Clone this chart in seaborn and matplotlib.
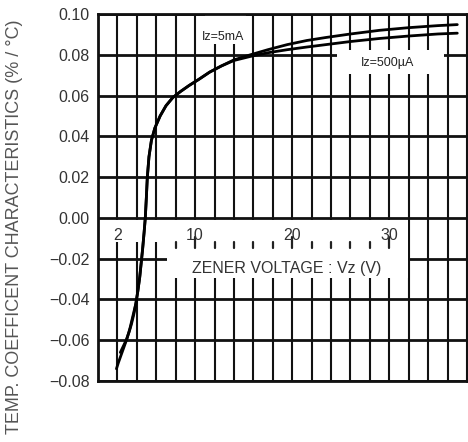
import matplotlib
matplotlib.use("Agg")
import matplotlib.pyplot as plt
import matplotlib.patches as mpatches
import seaborn as sns
import pandas as pd
import numpy as np

# curves
vz_5ma = [2.3, 2.6, 2.9, 3.2, 3.45, 3.7, 3.9, 4.1, 4.3, 4.45, 4.6, 4.75, 4.87, 4.98, 5.08, 5.25, 5.5, 5.85,
          6.4, 7.0, 7.7, 8.5, 9.4, 10.4, 11.5, 12.7, 14.0, 15.7, 17.5, 19.5, 21.5, 23.5, 26, 29, 32, 35, 37]
tc_5ma = [-0.066, -0.063, -0.060, -0.056, -0.052, -0.047, -0.042, -0.036, -0.029, -0.022, -0.015, -0.007,
          0.000, 0.010, 0.020, 0.030, 0.038, 0.044, 0.050, 0.055, 0.059, 0.062, 0.065, 0.068, 0.0715,
          0.0745, 0.0775, 0.080, 0.0825, 0.085, 0.087, 0.0885, 0.0902, 0.092, 0.0933, 0.0943, 0.0948]
vz_500ua = [1.9, 2.1, 2.4, 2.7, 3.0, 3.3, 3.6, 3.9, 4.1, 4.3, 4.45, 4.6, 4.75, 4.87, 4.98, 5.08, 5.25, 5.5,
            5.85, 6.4, 7.0, 7.7, 8.5, 9.4, 10.4, 11.5, 12.7, 14.0, 15.7, 17.5, 19.5, 21.5, 23.5, 26, 29,
            32, 35, 37]
tc_500ua = [-0.074, -0.071, -0.067, -0.063, -0.059, -0.054, -0.048, -0.042, -0.036, -0.029, -0.022,
            -0.015, -0.007, 0.000, 0.010, 0.020, 0.030, 0.038, 0.044, 0.050, 0.055, 0.059, 0.062, 0.065,
            0.068, 0.0715, 0.0745, 0.0772, 0.0792, 0.081, 0.0825, 0.0838, 0.085, 0.0865, 0.088, 0.0892,
            0.0902, 0.0906]

x_labels = [2, 10, 20, 30]
y_ticks = [-0.08, -0.06, -0.04, -0.02, 0.00, 0.02, 0.04, 0.06, 0.08, 0.10]

df = pd.concat([
    pd.DataFrame({"vz": vz_5ma, "tc": tc_5ma, "iz": "Iz=5mA"}),
    pd.DataFrame({"vz": vz_500ua, "tc": tc_500ua, "iz": "Iz=500µA"}),
])

sns.set_style("white")
plt.rcParams["font.family"] = ["Liberation Sans", "DejaVu Sans"]

fig = plt.figure(figsize=(4.68, 4.42), dpi=100)
ax = fig.add_axes([98 / 468, 1 - 381 / 442, 369 / 468, 367 / 442])

sns.lineplot(data=df, x="vz", y="tc", units="iz", estimator=None, sort=False,
             color="black", linewidth=2.0, ax=ax, zorder=5)

ax.set_xlim(0, 38)
ax.set_ylim(-0.08, 0.10)
ax.set_xticks(np.arange(0, 39, 2))
ax.set_xticklabels([])
ax.set_yticks(y_ticks)
ax.set_yticklabels(["0.00" if v == 0 else f"{v:.2f}".replace("-", "\u2212") for v in y_ticks],
                   fontsize=11.5, color="#333333")
ax.tick_params(length=0, pad=6)
ax.set_xlabel("")
ax.set_ylabel("")
ax.set_axisbelow(True)
ax.grid(axis="x", color="#111111", linewidth=1.5)
ax.grid(axis="y", color="#111111", linewidth=2.0)
for s in ax.spines.values():
    s.set_color("#111111")
    s.set_linewidth(2.0)
    s.set_visible(True)

# white areas that carry the inside x axis and the labels
white = dict(facecolor="white", edgecolor="none", zorder=1)
ax.add_patch(mpatches.Rectangle((0.15, -0.0117), 31.75, 0.0105, **white))
ax.add_patch(mpatches.Rectangle((7.1, -0.0293), 24.8, 0.0176, **white))
ax.add_patch(mpatches.Rectangle((11.0, 0.0854), 4.2, 0.0144, **white))
ax.add_patch(mpatches.Rectangle((24.6, 0.0707), 11.0, 0.0117, **white))

for v in range(8, 31, 2):
    top = -0.0095 if v in x_labels else -0.0117
    ax.plot([v, v], [top, -0.0146], color="#222222", linewidth=1.6, zorder=2)

for v in x_labels:
    ax.text(v, -0.0085, str(v), ha="center", va="center", fontsize=11.5, color="#333333", zorder=3)

ax.text(19.4, -0.0249, "ZENER VOLTAGE : Vz (V)", ha="center", va="center",
        fontsize=11.5, color="#333333", zorder=3)
ax.text(12.9, 0.0888, "Iz=5mA", ha="center", va="center", fontsize=9, color="#222222", zorder=3)
ax.text(29.8, 0.0761, "Iz=500µA", ha="center", va="center", fontsize=9, color="#222222", zorder=3)

fig.text(15 / 468, 1 - 227 / 442, "TEMP. COEFFICENT CHARACTERISTICS (% / °C)", rotation=90,
         ha="center", va="center", fontsize=13, color="#555555")

fig.savefig("out.png", dpi=100)
